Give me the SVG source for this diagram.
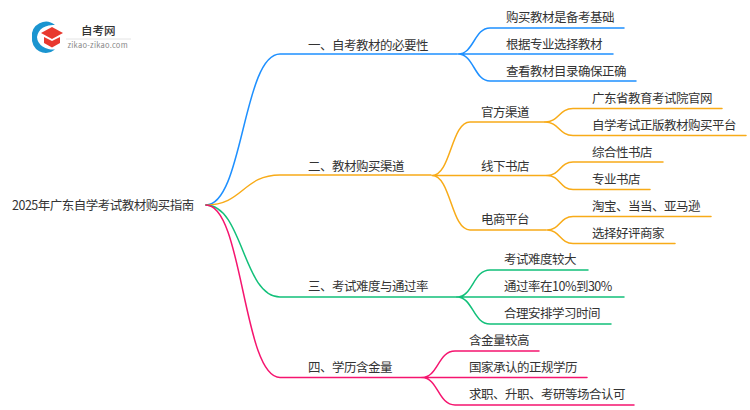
<svg xmlns="http://www.w3.org/2000/svg" width="750" height="410" viewBox="0 0 750 410">
<style>
text{font-family:"Noto Sans CJK SC","Noto Sans",sans-serif;font-size:12.500px;letter-spacing:-.5px;fill:#333}
.c{fill:none;stroke-width:1.5;stroke-linecap:round}
.b{stroke:#1e90ff}.o{stroke:#f8ab18}.g{stroke:#12c07a}.p{stroke:#f5156f}
</style>
<rect width="750" height="410" fill="#fff"/>
<g id="connectors">
<path class="c b" d="M206,205C243,205 243,54 280,54H457"/>
<path class="c b" d="M458,54C474,54 474,28 490,28H624M458,54H613M458,54C474,54 474,81 490,81H636"/>
<path class="c o" d="M206,205C243,205 243,175 280,175H431"/>
<path class="c o" d="M432,175.500C451,175.500 451,122 470,122H545M432,175.500H547M432,175.500C451,175.500 451,230 470,230H546"/>
<path class="c o" d="M545,122C559,122 559,108.500 573,108.500H722M545,122C559,122 559,135.500 573,135.500H746"/>
<path class="c o" d="M547,175.500C560,175.500 560,162 573,162H663M547,175.500C560,175.500 560,189.500 573,189.500H650"/>
<path class="c o" d="M547,230C560,230 560,216.500 573,216.500H711M547,230C560,230 560,243.500 573,243.500H675"/>
<path class="c g" d="M206,205C243,205 243,297 280,297H457"/>
<path class="c g" d="M457,297C473,297 473,270 490,270H588M457,297H624M457,297C473,297 473,324 490,324H611"/>
<path class="c p" d="M206,205C243,205 243,377.500 280,377.500H422"/>
<path class="c p" d="M422,377.500C438,377.500 438,351 455,351H539M422,377.500H587M422,377.500C438,377.500 438,405 455,405H634"/>
</g>
<g id="logo">
<path d="M55,25A14,14 0 0 0 32,37A14,14 0 0 0 55,49.500A16,13 0 0 1 37,37A16,13 0 0 1 55,25Z" fill="#1b95d0"/>
<path d="M52,27L63,33L52,39L41,33Z" fill="#e8392f"/>
<path d="M44,37L52,41L60,37V43L52,47.500L44,43Z" fill="#e8392f"/>
<text x="81" y="35" style="font-size:11.500px;letter-spacing:0;font-weight:500">自考网</text>
<line x1="66" y1="39" x2="131" y2="39" stroke="#e4e4e4"/>
<text x="67.500" y="48" style="font-size:7.500px;fill:#888;letter-spacing:.25px">zikao-zikao.com</text>
</g>
<g id="root"><text x="12" y="210">2025年广东自学考试教材购买指南</text></g>
<g id="n1"><text x="308" y="50">一、自考教材的必要性</text></g>
<g id="n1-1"><text x="506" y="22">购买教材是备考基础</text></g>
<g id="n1-2"><text x="506" y="49">根据专业选择教材</text></g>
<g id="n1-3"><text x="506" y="76">查看教材目录确保正确</text></g>
<g id="n2"><text x="308" y="171">二、教材购买渠道</text></g>
<g id="n2-1"><text x="481" y="117">官方渠道</text></g>
<g id="n2-1-1"><text x="592" y="103">广东省教育考试院官网</text></g>
<g id="n2-1-2"><text x="592" y="130">自学考试正版教材购买平台</text></g>
<g id="n2-2"><text x="481" y="171">线下书店</text></g>
<g id="n2-2-1"><text x="592" y="157">综合性书店</text></g>
<g id="n2-2-2"><text x="592" y="184">专业书店</text></g>
<g id="n2-3"><text x="481" y="224">电商平台</text></g>
<g id="n2-3-1"><text x="592" y="211">淘宝、当当、亚马逊</text></g>
<g id="n2-3-2"><text x="592" y="238">选择好评商家</text></g>
<g id="n3"><text x="308" y="291">三、考试难度与通过率</text></g>
<g id="n3-1"><text x="504" y="264">考试难度较大</text></g>
<g id="n3-2"><text x="504" y="291">通过率在10%到30%</text></g>
<g id="n3-3"><text x="504" y="318">合理安排学习时间</text></g>
<g id="n4"><text x="308" y="372">四、学历含金量</text></g>
<g id="n4-1"><text x="469" y="345">含金量较高</text></g>
<g id="n4-2"><text x="469" y="372">国家承认的正规学历</text></g>
<g id="n4-3"><text x="469" y="399">求职、升职、考研等场合认可</text></g>
</svg>
